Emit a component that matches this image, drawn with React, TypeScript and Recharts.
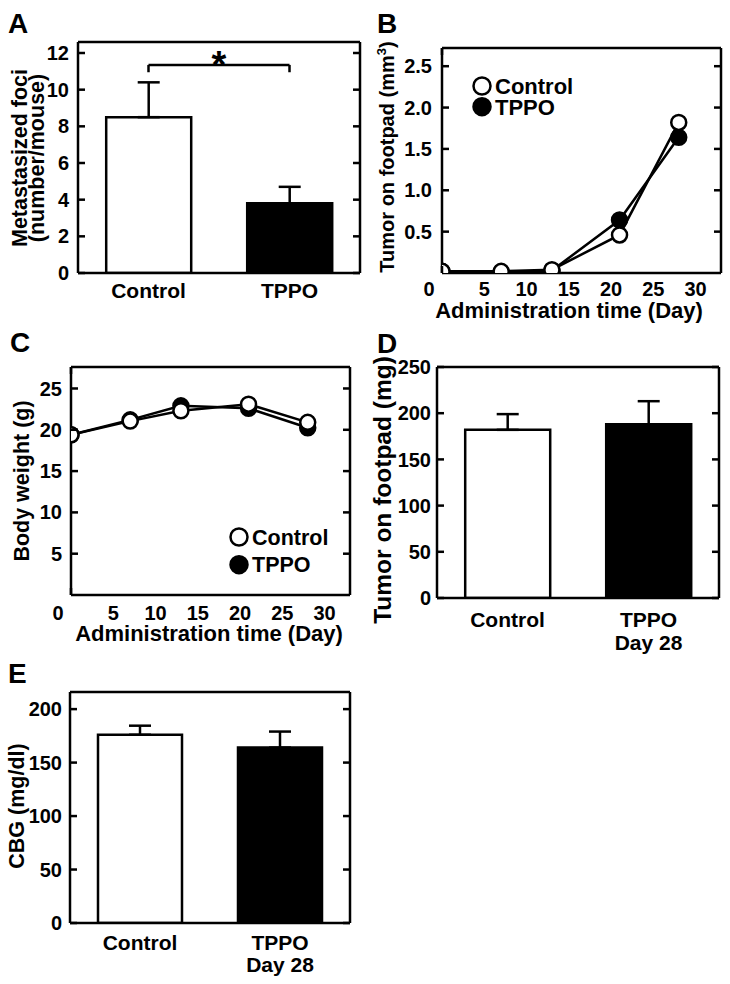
import React from 'react'
import { ComposedChart, LineChart, Bar, Cell, ErrorBar, Line, XAxis, YAxis, ReferenceLine, Legend } from 'recharts'

const FONT = '"Liberation Sans", Arial, Helvetica, sans-serif'

// shared categories for the bar panels
const groups = ['Control', 'TPPO']
const groupSub = ['', 'Day 28']
const barFills = ['#ffffff', '#000000']

// A: metastasized foci
const fociMean = [8.5, 3.8]
const fociSem = [1.9, 0.9]
const fociTicks = [0, 2, 4, 6, 8, 10, 12]
const bracketLevels = [11.35, 10.95]

// B & C: time course
const days = [0, 7, 13, 21, 28]
const dayTicks = [0, 5, 10, 15, 20, 25, 30]
const volControl = [0.02, 0.02, 0.04, 0.46, 1.82]
const volTppo = [0.02, 0.01, 0.03, 0.64, 1.64]
const volTicks = [0.5, 1, 1.5, 2, 2.5]
const weightControl = [19.4, 21.05, 22.3, 23.1, 20.9]
const weightTppo = [19.4, 21.2, 22.9, 22.6, 20.25]
const weightTicks = [5, 10, 15, 20, 25]

// D: tumor weight on day 28
const tumorMean = [182, 188]
const tumorSem = [17, 25]
const tumorTicks = [0, 50, 100, 150, 200, 250]

// E: CBG
const cbgMean = [176, 164]
const cbgSem = [8.5, 15]
const cbgTicks = [0, 50, 100, 150, 200]

const LINE = { stroke: '#000', strokeWidth: 2.5 }
const TICK_LEN = 7
const X_AXIS_H = 40

type Margin = { top: number; right: number; bottom: number; left: number }

type Title = {
  letter: string
  letterX: number
  letterY: number
  lines: React.ReactNode[]
  lineX: number[]
  cy: number
  size: number
}

const yTitle = (t: Title) => () => (
  <g fontFamily={FONT} fontWeight={700} fill='#000'>
    <text x={t.letterX} y={t.letterY} fontSize={28}>
      {t.letter}
    </text>
    {t.lines.map((l, i) => (
      <text
        key={i}
        x={t.lineX[i]}
        y={t.cy}
        fontSize={t.size}
        textAnchor='middle'
        transform={`rotate(-90 ${t.lineX[i]} ${t.cy})`}
      >
        {l}
      </text>
    ))}
  </g>
)

const xTitle = (text: string, cx: number, y: number) => () => (
  <text x={cx} y={y} textAnchor='middle' fontFamily={FONT} fontWeight={700} fontSize={22} fill='#000'>
    {text}
  </text>
)

// inward tick marks on both vertical sides of the box (rendered by the mirrored right axis)
const sideTicks = (plotLeft: number) => (props: any) => {
  const { x, y } = props
  return (
    <g stroke='#000' strokeWidth={2.5}>
      <line x1={x} y1={y} x2={x - TICK_LEN} y2={y} />
      <line x1={plotLeft} y1={y} x2={plotLeft + TICK_LEN} y2={y} />
    </g>
  )
}

// inward tick marks on top and bottom of the box (rendered by the mirrored top axis)
const capTicks = (plotBottom: number) => (props: any) => {
  const { x, y } = props
  return (
    <g stroke='#000' strokeWidth={2.5}>
      <line x1={x} y1={y} x2={x} y2={y + TICK_LEN} />
      <line x1={x} y1={plotBottom} x2={x} y2={plotBottom - TICK_LEN} />
    </g>
  )
}

// labels outside the box
const numLabel = (fmt?: (v: number) => string) => (props: any) => {
  const { x, y, payload } = props
  return (
    <text x={x} y={y} dy='0.355em' textAnchor='end' fontFamily={FONT} fontWeight={700} fontSize={20} fill='#000'>
      {fmt ? fmt(payload.value) : payload.value}
    </text>
  )
}

const dayLabel = (props: any) => {
  const { x, y, payload } = props
  return (
    <text
      x={payload.value === 0 ? x - 13 : x}
      y={y}
      dy='0.72em'
      textAnchor='middle'
      fontFamily={FONT}
      fontWeight={700}
      fontSize={20}
      fill='#000'
    >
      {payload.value}
    </text>
  )
}

const catLabel = (gap?: number) => (props: any) => {
  const { x, y, payload } = props
  const i = groups.indexOf(payload.value)
  return (
    <text x={x} y={y} textAnchor='middle' fontFamily={FONT} fontWeight={700} fontSize={21} fill='#000'>
      <tspan x={x} dy='0.72em'>
        {payload.value}
      </tspan>
      {gap && groupSub[i] ? (
        <tspan x={x} dy={gap}>
          {groupSub[i]}
        </tspan>
      ) : null}
    </text>
  )
}

type BarPanelProps = {
  left: number
  top: number
  width: number
  height: number
  margin: Margin
  yWidth: number
  yDomain: [number, number]
  yTicks: number[]
  yGap: number
  xTickMargin: number
  subGap?: number
  means: number[]
  sems: number[]
  title: Title
  children?: React.ReactNode
}

function BarPanel(p: BarPanelProps) {
  const data = groups.map((g, i) => ({ group: g, mean: p.means[i], sem: [0, p.sems[i]] }))
  const plotLeft = p.margin.left + p.yWidth
  return (
    <div style={{ position: 'absolute', left: p.left, top: p.top }}>
      <ComposedChart
        width={p.width}
        height={p.height}
        data={data}
        margin={p.margin}
        barCategoryGap='20%'
        style={{ fontFamily: FONT }}
      >
        <XAxis
          dataKey='group'
          type='category'
          height={X_AXIS_H}
          interval={0}
          tickLine={false}
          tickSize={0}
          tickMargin={p.xTickMargin}
          axisLine={LINE}
          tick={catLabel(p.subGap)}
        />
        <XAxis
          xAxisId='top'
          orientation='top'
          mirror
          type='number'
          domain={[0, 1]}
          allowDataOverflow
          tick={false}
          tickLine={false}
          axisLine={LINE}
        />
        <YAxis
          width={p.yWidth}
          domain={p.yDomain}
          ticks={p.yTicks}
          interval={0}
          allowDataOverflow
          tickSize={0}
          tickMargin={p.yGap}
          tickLine={false}
          axisLine={LINE}
          tick={numLabel()}
          label={yTitle(p.title)}
        />
        <YAxis
          yAxisId='r'
          orientation='right'
          mirror
          domain={p.yDomain}
          ticks={p.yTicks}
          interval={0}
          allowDataOverflow
          tickSize={0}
          tickMargin={0}
          tickLine={false}
          axisLine={LINE}
          tick={sideTicks(plotLeft)}
        />
        <Bar dataKey='mean' stroke='#000' strokeWidth={2.5} isAnimationActive={false}>
          {data.map((d, i) => (
            <Cell key={d.group} fill={barFills[i]} />
          ))}
          <ErrorBar dataKey='sem' width={11} stroke='#000' strokeWidth={2.5} isAnimationActive={false} />
        </Bar>
        {p.children}
      </ComposedChart>
    </div>
  )
}

type LinePanelProps = {
  left: number
  top: number
  width: number
  height: number
  margin: Margin
  yWidth: number
  yDomain: [number, number]
  yTicks: number[]
  yTickFormat: (v: number) => string
  yGap: number
  xGap: number
  control: number[]
  tppo: number[]
  title: Title
  xTitleX: number
  xTitleY: number
  legend: { left: number; top: number; gap: number; textDx: number; size: number }
}

function LegendBox({ gap, textDx, size }: { gap: number; textDx: number; size: number }) {
  const rows = [
    { name: 'Control', fill: '#fff' },
    { name: 'TPPO', fill: '#000' },
  ]
  return (
    <svg width={140} height={gap + 26} style={{ display: 'block', overflow: 'visible' }}>
      {rows.map((r, i) => (
        <g key={r.name}>
          <circle cx={12} cy={12 + i * gap} r={8.5} fill={r.fill} stroke='#000' strokeWidth={2.5} />
          <text
            x={12 + textDx}
            y={12 + i * gap + size * 0.36}
            fontFamily={FONT}
            fontWeight={700}
            fontSize={size}
            fill='#000'
          >
            {r.name}
          </text>
        </g>
      ))}
    </svg>
  )
}

function LinePanel(p: LinePanelProps) {
  const data = days.map((d, i) => ({ day: d, control: p.control[i], tppo: p.tppo[i] }))
  const plotLeft = p.margin.left + p.yWidth
  const plotBottom = p.height - p.margin.bottom - X_AXIS_H
  return (
    <div style={{ position: 'absolute', left: p.left, top: p.top }}>
      <LineChart width={p.width} height={p.height} data={data} margin={p.margin} style={{ fontFamily: FONT }}>
        <XAxis
          dataKey='day'
          type='number'
          domain={[0, 33]}
          ticks={dayTicks}
          interval={0}
          allowDataOverflow
          height={X_AXIS_H}
          tickSize={0}
          tickMargin={p.xGap}
          tickLine={false}
          axisLine={LINE}
          tick={dayLabel}
          label={xTitle('Administration time (Day)', p.xTitleX, p.xTitleY)}
        />
        <XAxis
          xAxisId='top'
          orientation='top'
          mirror
          type='number'
          domain={[0, 33]}
          ticks={dayTicks}
          interval={0}
          allowDataOverflow
          tickSize={0}
          tickMargin={0}
          tickLine={false}
          axisLine={LINE}
          tick={capTicks(plotBottom)}
        />
        <YAxis
          width={p.yWidth}
          domain={p.yDomain}
          ticks={p.yTicks}
          interval={0}
          allowDataOverflow
          tickSize={0}
          tickMargin={p.yGap}
          tickLine={false}
          axisLine={LINE}
          tick={numLabel(p.yTickFormat)}
          label={yTitle(p.title)}
        />
        <YAxis
          yAxisId='r'
          orientation='right'
          mirror
          domain={p.yDomain}
          ticks={p.yTicks}
          interval={0}
          allowDataOverflow
          tickSize={0}
          tickMargin={0}
          tickLine={false}
          axisLine={LINE}
          tick={sideTicks(plotLeft)}
        />
        <Legend
          layout='vertical'
          align='center'
          verticalAlign='middle'
          wrapperStyle={{ left: p.legend.left, top: p.legend.top, width: 140 }}
          content={() => <LegendBox gap={p.legend.gap} textDx={p.legend.textDx} size={p.legend.size} />}
        />
        <Line
          dataKey='tppo'
          type='linear'
          stroke='#000'
          strokeWidth={2.5}
          dot={{ r: 7.5, fill: '#000', stroke: '#000', strokeWidth: 2.5 }}
          isAnimationActive={false}
        />
        <Line
          dataKey='control'
          type='linear'
          stroke='#000'
          strokeWidth={2.5}
          dot={{ r: 7.5, fill: '#fff', stroke: '#000', strokeWidth: 2.5 }}
          isAnimationActive={false}
        />
      </LineChart>
    </div>
  )
}

export default function App() {
  return (
    <div style={{ position: 'absolute', left: 0, top: 0, width: 730, height: 984, background: '#fff' }}>
      <BarPanel
        left={0}
        top={0}
        width={370}
        height={325}
        margin={{ top: 42, right: 10, bottom: 12, left: 0 }}
        yWidth={78}
        yDomain={[0, 12.6]}
        yTicks={fociTicks}
        yGap={9}
        xTickMargin={10}
        means={fociMean}
        sems={fociSem}
        title={{
          letter: 'A',
          letterX: 8,
          letterY: 33,
          lines: ['Metastasized foci', '(number/mouse)'],
          lineX: [27, 44],
          cy: 158,
          size: 21.5,
        }}
      >
        <ReferenceLine
          segment={[
            { x: 'Control', y: bracketLevels[0] },
            { x: 'TPPO', y: bracketLevels[0] },
          ]}
          stroke='#000'
          strokeWidth={2.5}
          ifOverflow='visible'
          label={{ value: '*', position: 'top', offset: -13, fill: '#000', fontSize: 38, fontWeight: 700, fontFamily: FONT }}
        />
        <ReferenceLine
          segment={[
            { x: 'Control', y: bracketLevels[0] },
            { x: 'Control', y: bracketLevels[1] },
          ]}
          stroke='#000'
          strokeWidth={2.5}
          ifOverflow='visible'
        />
        <ReferenceLine
          segment={[
            { x: 'TPPO', y: bracketLevels[0] },
            { x: 'TPPO', y: bracketLevels[1] },
          ]}
          stroke='#000'
          strokeWidth={2.5}
          ifOverflow='visible'
        />
      </BarPanel>

      <LinePanel
        left={360}
        top={0}
        width={370}
        height={330}
        margin={{ top: 48, right: 9, bottom: 17, left: 0 }}
        yWidth={82}
        yDomain={[0, 2.72]}
        yTicks={volTicks}
        yTickFormat={(v) => v.toFixed(1)}
        yGap={10}
        xGap={9}
        control={volControl}
        tppo={volTppo}
        title={{
          letter: 'B',
          letterX: 17,
          letterY: 33,
          lines: [
            <>
              Tumor on footpad (mm
              <tspan dy={-8} fontSize={13}>
                3
              </tspan>
              <tspan dy={8}>)</tspan>
            </>,
          ],
          lineX: [34],
          cy: 157,
          size: 20,
        }}
        xTitleX={209}
        xTitleY={318}
        legend={{ left: 109.7, top: 74, gap: 20.7, textDx: 13, size: 22 }}
      />

      <LinePanel
        left={0}
        top={320}
        width={370}
        height={330}
        margin={{ top: 47, right: 20, bottom: 15, left: 0 }}
        yWidth={71}
        yDomain={[0, 27.6]}
        yTicks={weightTicks}
        yTickFormat={(v) => String(v)}
        yGap={9}
        xGap={11}
        control={weightControl}
        tppo={weightTppo}
        title={{
          letter: 'C',
          letterX: 10,
          letterY: 32,
          lines: ['Body weight (g)'],
          lineX: [29],
          cy: 161,
          size: 21.5,
        }}
        xTitleX={209}
        xTitleY={321}
        legend={{ left: 227.3, top: 205.3, gap: 27.7, textDx: 13, size: 21.5 }}
      />

      <BarPanel
        left={360}
        top={320}
        width={370}
        height={340}
        margin={{ top: 47, right: 11, bottom: 22, left: 0 }}
        yWidth={77}
        yDomain={[0, 250]}
        yTicks={tumorTicks}
        yGap={6}
        xTickMargin={13.5}
        subGap={23.3}
        means={tumorMean}
        sems={tumorSem}
        title={{
          letter: 'D',
          letterX: 17,
          letterY: 33,
          lines: ['Tumor on footpad (mg)'],
          lineX: [31],
          cy: 170,
          size: 24.5,
        }}
      />

      <BarPanel
        left={0}
        top={655}
        width={370}
        height={329}
        margin={{ top: 37, right: 20, bottom: 21, left: 0 }}
        yWidth={70}
        yDomain={[0, 216]}
        yTicks={cbgTicks}
        yGap={8}
        xTickMargin={12}
        subGap={21.7}
        means={cbgMean}
        sems={cbgSem}
        title={{
          letter: 'E',
          letterX: 8,
          letterY: 28,
          lines: ['CBG (mg/dl)'],
          lineX: [24],
          cy: 151,
          size: 21.5,
        }}
      />
    </div>
  )
}
